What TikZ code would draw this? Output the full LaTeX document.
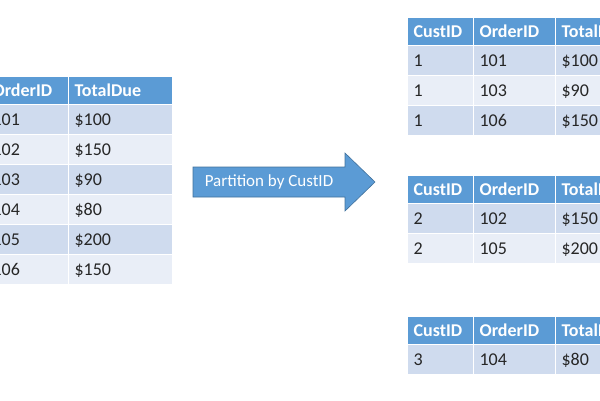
\documentclass[tikz,border=0pt]{standalone}
\usepackage{fontspec}
\setmainfont{Carlito}
\definecolor{headblue}{RGB}{91,155,213}
\definecolor{rowdark}{RGB}{207,219,238}
\definecolor{rowlight}{RGB}{233,238,247}
\definecolor{arrowblue}{RGB}{91,155,213}
\definecolor{arrowedge}{RGB}{65,113,156}
\tikzset{
  cellbox/.style={draw=white, line width=1.2pt, anchor=north west, inner sep=0pt,
    minimum height=30pt, text depth=0pt, align=left},
  headcell/.style={cellbox, fill=headblue, text=white, font=\fontsize{18}{20}\selectfont\bfseries, minimum height=28pt},
  darkcell/.style={cellbox, fill=rowdark, text=black!85, font=\fontsize{18}{20}\selectfont},
  lightcell/.style={cellbox, fill=rowlight, text=black!85, font=\fontsize{18}{20}\selectfont},
}
% one cell: name, x, y, width, style, text
\newcommand{\tcell}[6]{\node[#5, minimum width=#4pt, text width=#4pt-12pt, inner xsep=6pt] (#1) at (#2,#3) {#6};}
\begin{document}
\begin{tikzpicture}[x=1pt, y=-1pt]
  \useasboundingbox (0,0) rectangle (600,400);
  \clip (0,0) rectangle (600,400);

  % Tabla original
  \tcell{lh1}{-14}{76}{82}{headcell}{OrderID}
  \tcell{lh2}{68}{76}{104}{headcell}{TotalDue}
  \foreach \i/\oid/\due in {1/101/\$100, 2/102/\$150, 3/103/\$90, 4/104/\$80, 5/105/\$200, 6/106/\$150} {
    \pgfmathsetmacro{\yy}{104+30*(\i-1)}
    \ifodd\i \def\st{darkcell}\else\def\st{lightcell}\fi
    \tcell{la\i}{-14}{\yy}{82}{\st}{\oid}
    \tcell{lb\i}{68}{\yy}{104}{\st}{\due}
  }

  % Flecha
  \fill[arrowblue, draw=arrowedge, line width=0.6pt]
    (193,167) -- (345,167) -- (345,153) -- (375,182) -- (345,211) -- (345,197) -- (193,197) -- cycle;
  \node[text=white, font=\fontsize{17}{19}\selectfont] (lbl) at (269,182) {Partition by CustID};

  % Tablas particionadas
  \foreach \t/\ty/\rows in {a/17/{1/101/\$100, 1/103/\$90, 1/106/\$150},
                            b/175/{2/102/\$150, 2/105/\$200},
                            c/316/{3/104/\$80}} {
    \tcell{\t h1}{407}{\ty}{66}{headcell}{CustID}
    \tcell{\t h2}{473}{\ty}{82}{headcell}{OrderID}
    \tcell{\t h3}{555}{\ty}{82}{headcell}{TotalDue}
    \foreach \cid/\oid/\due [count=\i] in \rows {
      \pgfmathsetmacro{\yy}{\ty+28+30*(\i-1)}
      \ifodd\i \def\st{darkcell}\else\def\st{lightcell}\fi
      \tcell{\t r\i c1}{407}{\yy}{66}{\st}{\cid}
      \tcell{\t r\i c2}{473}{\yy}{82}{\st}{\oid}
      \tcell{\t r\i c3}{555}{\yy}{82}{\st}{\due}
    }
  }
\end{tikzpicture}
\end{document}
